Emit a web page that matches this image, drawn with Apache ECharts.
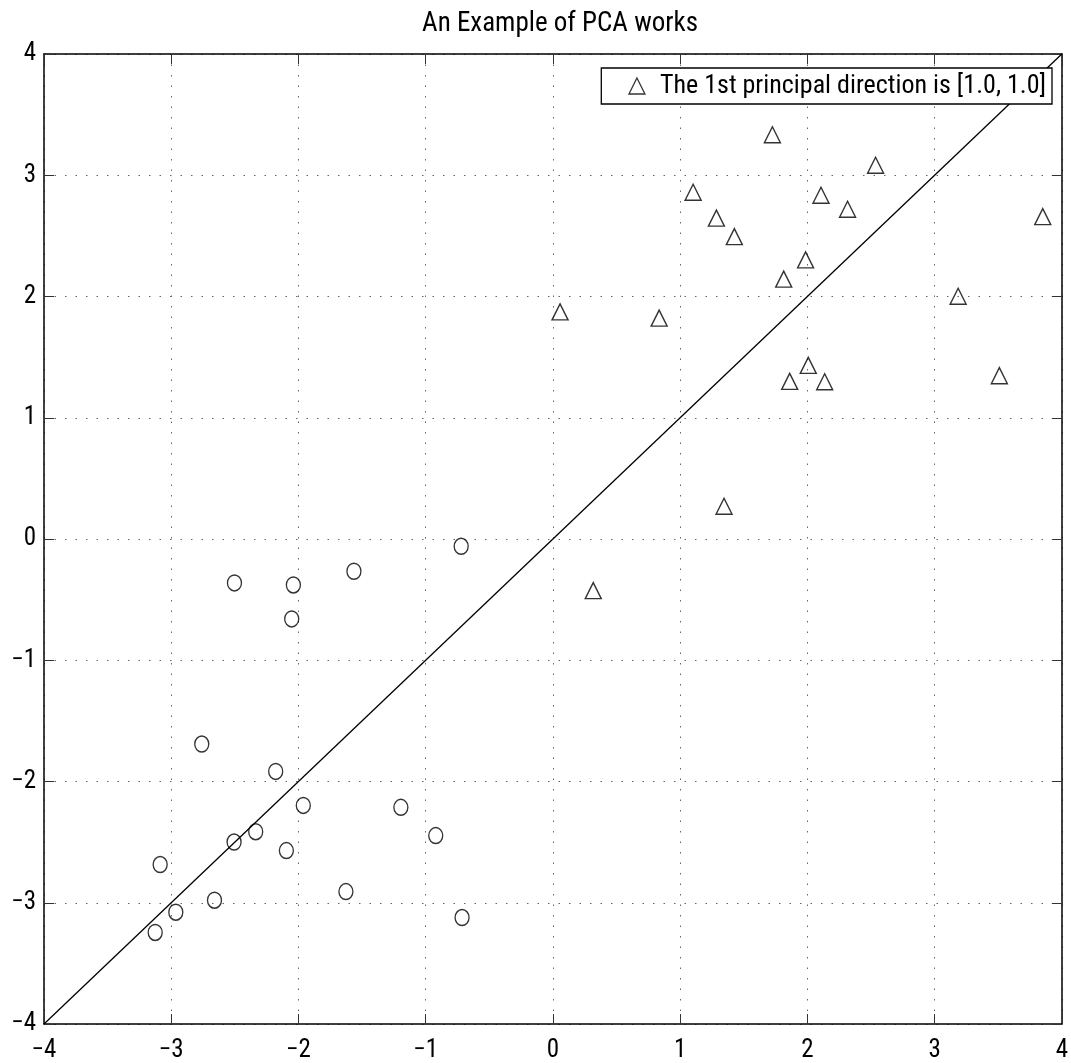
<!DOCTYPE html>
<html>
	<head>
		<meta http-equiv="Content-Type" content="text/html; charset=utf-8"/>
		<title>PCA</title>
		<script src="https://cdn.jsdelivr.net/npm/echarts@6/dist/echarts.min.js"></script>
		<style>
			html,body{margin:0;padding:0;background:#fff;}
			#tu1{width:1071px;height:1063px;}
		</style>
	</head>
	<body>
		<div id="tu1"></div>
		<script type="text/javascript">
			// class 1 (triangles)
			var triX = [1.725, 2.536, 1.102, 2.107, 2.316, 1.285, 3.850, 1.426, 1.986, 1.814, 3.185, 0.056, 0.835, 2.007, 1.861, 2.136, 3.509, 1.345, 0.317];
			var triY = [3.334, 3.082, 2.860, 2.835, 2.720, 2.646, 2.659, 2.494, 2.302, 2.143, 2.002, 1.873, 1.822, 1.432, 1.300, 1.297, 1.347, 0.270, -0.426];
			// class 2 (circles)
			var cirX = [-0.721, -2.503, -2.040, -1.564, -2.053, -2.760, -2.179, -1.962, -1.195, -2.336, -2.506, -2.095, -0.921, -3.087, -1.627, -2.660, -2.964, -0.714, -3.126];
			var cirY = [-0.060, -0.362, -0.379, -0.266, -0.659, -1.691, -1.917, -2.197, -2.213, -2.414, -2.499, -2.570, -2.446, -2.685, -2.908, -2.979, -3.078, -3.122, -3.245];
			// principal direction line
			var lineX = [-4, 4];
			var lineY = [-4, 4];
			var ticks = [-4, -3, -2, -1, 0, 1, 2, 3, 4];
			var legendName = 'The 1st principal direction is [1.0, 1.0]';

			function pairs(xs, ys){
				var out = [];
				for (var i = 0; i < xs.length; i++) out.push([xs[i], ys[i]]);
				return out;
			}
			function lbl(v){ return String(v).replace('-', '\u2212'); }

			var font = '"Roboto Condensed", "Liberation Sans", Arial, sans-serif';
			var gridLine = {show:true, lineStyle:{color:'#666', width:1, type:[1.5, 9]}};
			var tickStyle = {show:true, inside:true, length:10, lineStyle:{color:'#333', width:1}};
			var edge = {show:true, onZero:false, lineStyle:{color:'#000', width:1.5}};

			function axis(pos, showLabel, grid, margin){
				return {
					type:'value', position:pos, min:ticks[0], max:ticks[ticks.length-1], interval:1,
					axisLine:edge, axisTick:tickStyle, splitLine: grid ? gridLine : {show:false},
					axisLabel:{show:showLabel, color:'#000', fontSize:25, fontFamily:font, margin:margin, formatter:lbl}
				};
			}

			var myChart1 = echarts.init(document.getElementById('tu1'));
			var option1 = {
				animation:false,
				backgroundColor:'#fff',
				title:{text:'An Example of PCA works', left:555, textAlign:'center', top:6,
					textStyle:{fontSize:27, fontWeight:'normal', color:'#000', fontFamily:font}},
				grid:{left:44, right:8, top:54, bottom:38},
				legend:{
					data:[{name:legendName, icon:'triangle'}],
					right:19, top:68, orient:'horizontal',
					backgroundColor:'#fff', borderColor:'#000', borderWidth:1.3, borderRadius:0,
					padding:[5, 6, 5, 27], itemWidth:16, itemHeight:16,
					itemStyle:{color:'rgba(0,0,0,0)', borderColor:'#000', borderWidth:1.3},
					textStyle:{fontSize:26, color:'#000', fontFamily:font, padding:[0, 0, 0, 10]}
				},
				xAxis:[axis('bottom', true, true, 14), axis('top', false, false, 8)],
				yAxis:[axis('left', true, true, 8), axis('right', false, false, 8)],
				series:[
					{name:'line', type:'line', data:pairs(lineX, lineY), showSymbol:false, symbol:'none',
						lineStyle:{color:'#000', width:1.3}, z:1},
					{name:legendName, type:'scatter', data:pairs(triX, triY), symbol:'triangle', symbolSize:[16, 16],
						itemStyle:{color:'rgba(0,0,0,0)', borderColor:'#000', borderWidth:1.4}, z:3},
					{name:'circles', type:'scatter', data:pairs(cirX, cirY), symbol:'circle', symbolSize:[14, 16],
						itemStyle:{color:'rgba(0,0,0,0)', borderColor:'#000', borderWidth:1.4}, z:3}
				]
			};
			myChart1.setOption(option1);
		</script>
	</body>
</html>
